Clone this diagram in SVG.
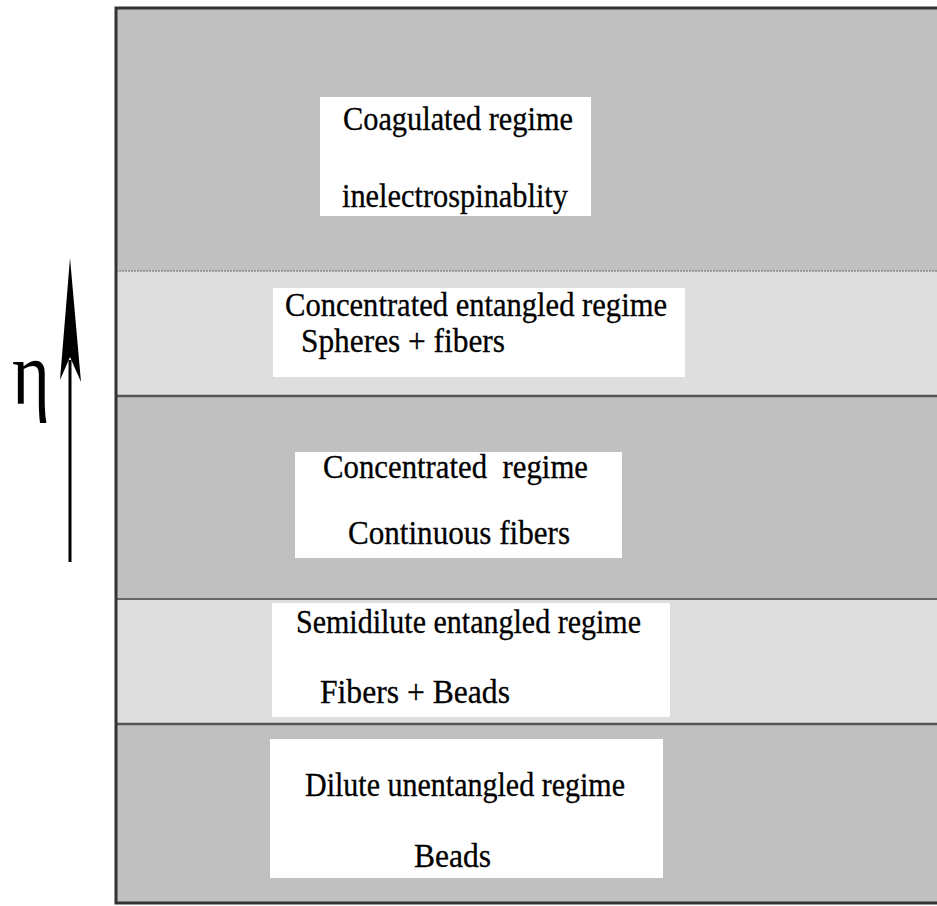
<svg xmlns="http://www.w3.org/2000/svg" width="937" height="906" viewBox="0 0 937 906">
<style>
.dark{fill:#c0c0c0}
.light{fill:#dedede}
.box{fill:#ffffff}
text{font-family:'Liberation Serif','DejaVu Serif',serif}
.lbl{font-size:33px;fill:#000;stroke:#000;stroke-width:0.3}
.div{stroke:#555;stroke-width:2.5;fill:none}
.frame{stroke:#333;stroke-width:3;fill:none}
</style>
<rect width="937" height="906" fill="#ffffff"/>
<g id="bands">
<rect class="dark" x="116" y="8" width="821" height="263"/>
<rect class="light" x="116" y="271" width="821" height="125"/>
<rect class="dark" x="116" y="396" width="821" height="203"/>
<rect class="light" x="116" y="599" width="821" height="125"/>
<rect class="dark" x="116" y="724" width="821" height="179"/>
<line x1="116" y1="271" x2="937" y2="271" stroke="#8a8a8a" stroke-width="1.5" stroke-dasharray="2 1"/>
<line class="div" x1="116" y1="396" x2="937" y2="396"/>
<line x1="116" y1="599" x2="937" y2="599" stroke="#666" stroke-width="2"/>
<line class="div" x1="116" y1="724" x2="937" y2="724"/>
<path class="frame" d="M937,8 H116 V903 H937"/>
</g>
<g id="coagulated">
<rect class="box" x="320" y="97" width="271" height="119"/>
<text class="lbl" x="343" y="130" textLength="230" lengthAdjust="spacingAndGlyphs">Coagulated regime</text>
<text class="lbl" x="342" y="207" textLength="226" lengthAdjust="spacingAndGlyphs">inelectrospinablity</text>
</g>
<g id="concentrated-entangled">
<rect class="box" x="273" y="288" width="412" height="89"/>
<text class="lbl" x="285" y="316" textLength="382" lengthAdjust="spacingAndGlyphs">Concentrated entangled regime</text>
<text class="lbl" x="301" y="352" textLength="204" lengthAdjust="spacingAndGlyphs">Spheres + fibers</text>
</g>
<g id="concentrated">
<rect class="box" x="295" y="452" width="327" height="106"/>
<text class="lbl" x="323" y="478" textLength="265" lengthAdjust="spacingAndGlyphs" xml:space="preserve">Concentrated  regime</text>
<text class="lbl" x="348" y="544" textLength="222" lengthAdjust="spacingAndGlyphs">Continuous fibers</text>
</g>
<g id="semidilute">
<rect class="box" x="272" y="603" width="398" height="114"/>
<text class="lbl" x="296" y="633" textLength="345" lengthAdjust="spacingAndGlyphs">Semidilute entangled regime</text>
<text class="lbl" x="320" y="703" textLength="190" lengthAdjust="spacingAndGlyphs">Fibers + Beads</text>
</g>
<g id="dilute">
<rect class="box" x="270" y="739" width="393" height="139"/>
<text class="lbl" x="305" y="796" textLength="320" lengthAdjust="spacingAndGlyphs">Dilute unentangled regime</text>
<text class="lbl" x="414" y="867" textLength="77" lengthAdjust="spacingAndGlyphs">Beads</text>
</g>
<g id="connectors">
<line x1="70" y1="562" x2="70" y2="360" stroke="#000" stroke-width="3"/>
<polygon points="70,258 81,382 70,357 60,380" fill="#000"/>
</g>
<g id="eta">
<text x="12" y="404" font-size="90" fill="#000" textLength="38" lengthAdjust="spacingAndGlyphs">η</text>
</g>
</svg>
